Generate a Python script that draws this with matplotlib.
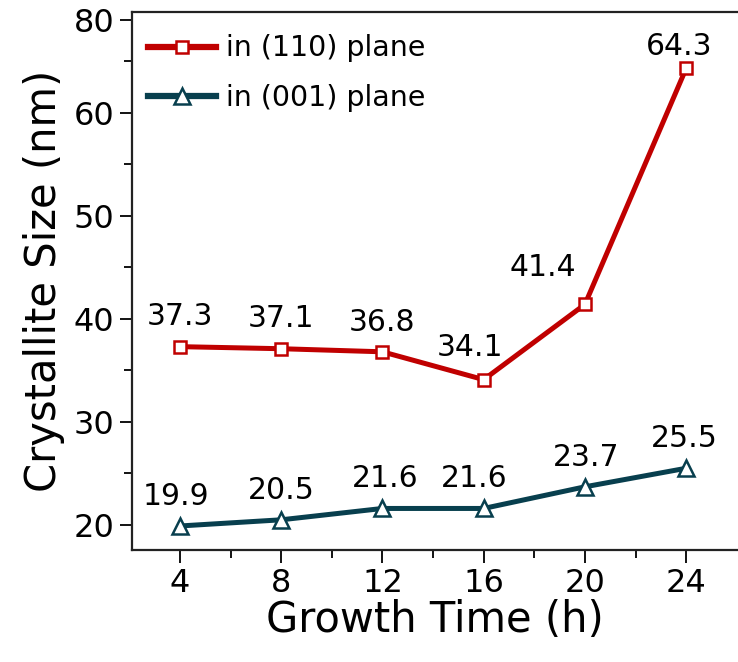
import matplotlib
matplotlib.use("Agg")
import matplotlib.pyplot as plt
from matplotlib.ticker import FixedLocator

# ---------------------------------------------------------------------------
# Data
# ---------------------------------------------------------------------------
growth_time = [4, 8, 12, 16, 20, 24]
size_110 = [37.3, 37.1, 36.8, 34.1, 41.4, 64.3]
size_001 = [19.9, 20.5, 21.6, 21.6, 23.7, 25.5]

x_ticks = [4, 8, 12, 16, 20, 24]
x_minor = [6, 10, 14, 18, 22]
# the top tick of the original is labelled "80" although it sits near 69
y_ticks = [20, 30, 40, 50, 60, 69]
y_ticklabels = ["20", "30", "40", "50", "60", "80"]
y_minor = [25, 35, 45, 55, 65]

label_110 = "in (110) plane"
label_001 = "in (001) plane"

# label offsets (points) relative to each marker
off_110 = [(0, 11), (0, 11), (0, 11), (-10, 13), (-30, 16), (-5, 5)]
off_001 = [(-3, 11), (0, 11), (2, 11), (-7, 11), (1, 11), (-1, 11)]

RED = "#C00000"
TEAL = "#083F4E"

plt.rcParams["font.family"] = ["DejaVu Sans"]

fig = plt.figure(figsize=(7.38, 6.62), dpi=100)
ax = fig.add_axes([0.1795, 0.1692, 0.8205, 0.8131])

ax.plot(growth_time, size_110, color=RED, lw=3.6, marker="s", ms=8.5,
        mfc="white", mec=RED, mew=1.8, label=label_110, zorder=3)
ax.plot(growth_time, size_001, color=TEAL, lw=3.6, marker="^", ms=11,
        mfc="white", mec=TEAL, mew=1.8, label=label_001, zorder=3)

for x, y, (dx, dy) in zip(growth_time, size_110, off_110):
    ax.annotate(f"{y:.1f}", (x, y), xytext=(dx, dy), textcoords="offset points",
                ha="center", va="bottom", fontsize=21.5)
for x, y, (dx, dy) in zip(growth_time, size_001, off_001):
    ax.annotate(f"{y:.1f}", (x, y), xytext=(dx, dy), textcoords="offset points",
                ha="center", va="bottom", fontsize=21.5)

ax.set_xlim(2.12, 26.05)
ax.set_ylim(17.57, 69.8)

ax.xaxis.set_major_locator(FixedLocator(x_ticks))
ax.xaxis.set_minor_locator(FixedLocator(x_minor))
ax.yaxis.set_major_locator(FixedLocator(y_ticks))
ax.yaxis.set_minor_locator(FixedLocator(y_minor))
ax.set_yticklabels(y_ticklabels)

ax.tick_params(axis="both", which="major", direction="out", length=9,
               width=1.3, labelsize=23, pad=4)
ax.tick_params(axis="both", which="minor", direction="out", length=6,
               width=1.3)

for side in ["left", "bottom", "top"]:
    ax.spines[side].set_linewidth(1.6)
    ax.spines[side].set_color("#222222")
ax.spines["right"].set_visible(False)

ax.set_xlabel("Growth Time (h)", fontsize=30, labelpad=0)
ax.set_ylabel("Crystallite Size (nm)", fontsize=30, labelpad=6)

leg = ax.legend(loc="upper left", frameon=False, fontsize=20.5,
                handlelength=2.4, handletextpad=0.35, labelspacing=0.75,
                borderaxespad=0.45, borderpad=0.35,
                bbox_to_anchor=(-0.012, 1.0))
for line in leg.get_lines():
    line.set_linewidth(4.5)

fig.savefig("out.png", dpi=100)
